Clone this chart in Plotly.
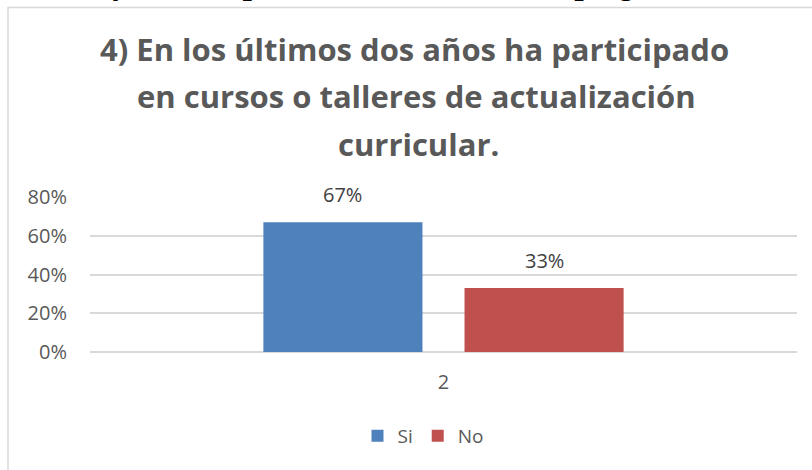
import plotly.graph_objects as go

categories = ["2"]
series_names = ["Si", "No"]
si_values = [0.67]
no_values = [0.33]
colors = ["#4F81BD", "#C0504D"]
title_lines = [
    "4) En los últimos dos años ha participado",
    "en cursos o talleres de actualización",
    "curricular.",
]
caption = "Gráfico 3: Representación estadística pregunta 4"

W, H = 812, 470
L, R, T, B = 90, 15, 197, 118
ph = H - T - B
pw = W - L - R
BARGAP, GROUPGAP = 0.431, 0.209

def py(y):
    return (H - B - y) / ph

def px(x):
    return (x - L) / pw

fig = go.Figure()
all_vals = [si_values, no_values]
n = len(all_vals)
slot = (1 - BARGAP) / n
for k, (name, vals, col) in enumerate(zip(series_names, all_vals, colors)):
    fig.add_trace(go.Bar(
        x=categories, y=vals, name=name, marker_color=col,
        marker_line_width=0,
    ))
    for i, (c, v) in enumerate(zip(categories, vals)):
        xc = i - (1 - BARGAP) / 2 + slot * (k + 0.5)
        fig.add_annotation(x=xc, y=v, xref="x", yref="y", text=f"{v:.0%}",
                           showarrow=False, yanchor="bottom", yshift=12,
                           font=dict(size=20, color="#404040", family="Open Sans"))

fig.update_layout(
    width=W, height=H,
    margin=dict(l=L, r=R, t=T, b=B),
    paper_bgcolor="white", plot_bgcolor="white",
    barmode="group", bargap=BARGAP, bargroupgap=GROUPGAP,
    font=dict(family="Open Sans", color="#595959"),
    showlegend=True,
    legend=dict(orientation="h", x=px(423), xanchor="center", y=py(436), yanchor="middle",
                font=dict(size=19, color="#595959"), itemwidth=30,
                traceorder="normal"),
)
fig.update_yaxes(range=[0, 0.8], tickvals=[0, 0.2, 0.4, 0.6, 0.8], tickformat=".0%",
                 showgrid=True, gridcolor="#d9d9d9", gridwidth=1.5,
                 zeroline=True, zerolinecolor="#d9d9d9", zerolinewidth=1.5,
                 showline=False, ticks="", ticklabelstandoff=22,
                 tickfont=dict(size=20, color="#595959"))
fig.update_xaxes(type="category", range=[-0.5, len(categories) - 0.5],
                 showline=False, ticks="", ticklabelstandoff=16,
                 tickfont=dict(size=20, color="#595959"))

line_y = [49, 96, 144]
line_x = [414, 416, 418]
for t, yy, xx in zip(title_lines, line_y, line_x):
    fig.add_annotation(text=f"<b>{t}</b>", xref="paper", yref="paper",
                       x=px(xx), y=py(yy), xanchor="center", yanchor="middle",
                       showarrow=False, font=dict(size=31, family="Open Sans", color="#595959"))

fig.add_annotation(text=f"<b><i>{caption}</i></b>", xref="paper", yref="paper",
                   x=px(392), y=py(3), xanchor="center", yanchor="bottom",
                   showarrow=False, font=dict(size=33, family="Liberation Serif", color="#000000"))

fig.add_shape(type="rect", xref="paper", yref="paper",
              x0=px(8), x1=px(830), y0=py(7.5), y1=py(490),
              line=dict(color="#d9d9d9", width=1.5), fillcolor="rgba(0,0,0,0)", layer="below")

fig.write_html("out.html", config={"displayModeBar": False},
               post_script="document.body.style.margin='0';document.body.style.overflow='hidden';")
